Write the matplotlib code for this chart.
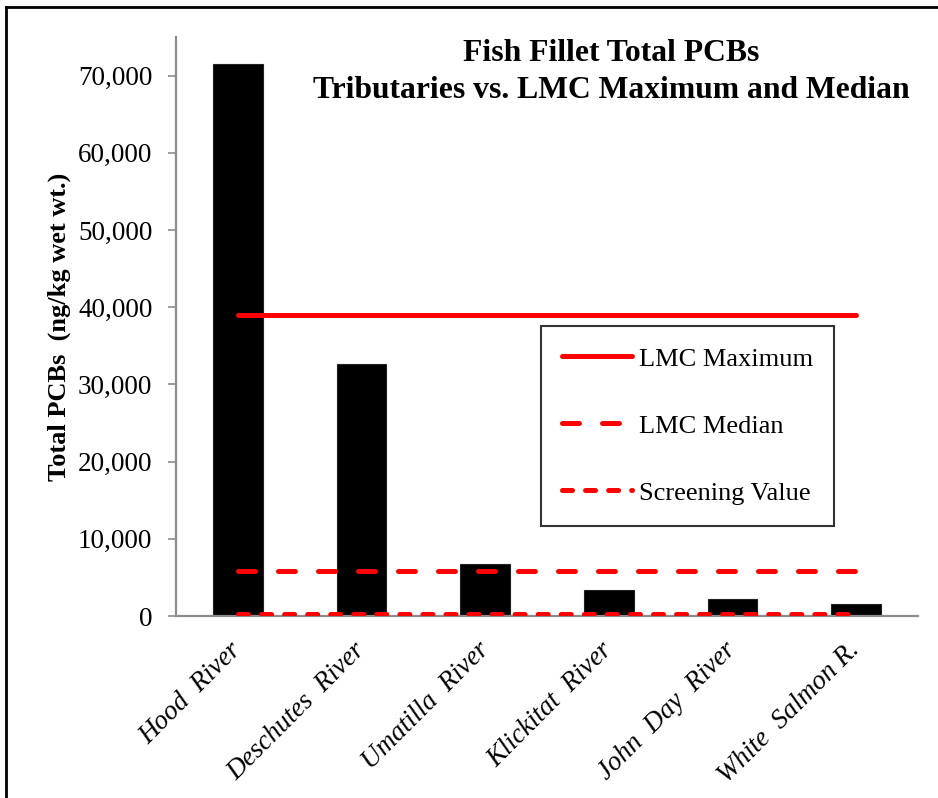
import matplotlib
matplotlib.use("Agg")
import matplotlib.pyplot as plt
from matplotlib.lines import Line2D
from matplotlib.ticker import FuncFormatter

plt.rcParams['font.family'] = ['Liberation Serif', 'DejaVu Serif']
plt.rcParams['lines.scale_dashes'] = False

# ---- data ----
categories = ["Hood  River", "Deschutes  River", "Umatilla  River",
              "Klickitat  River", "John  Day  River", "White  Salmon R."]
total_pcbs = [71500, 32600, 6750, 3400, 2200, 1600]
lmc_maximum = 39000
lmc_median = 5800
screening_value = 250
yticks = [0, 10000, 20000, 30000, 40000, 50000, 60000, 70000]

fig = plt.figure(figsize=(9.38, 7.98), dpi=100)
ax = fig.add_axes([176/938, 1-616/798, 742/938, 579/798])

x = list(range(len(categories)))
ax.bar(x, total_pcbs, width=0.40, color='black', edgecolor='#222222', linewidth=0.8, zorder=2)

red = '#ff0000'
lw = 3.6
xl = [x[0], x[-1]]
ax.plot(xl, [lmc_maximum]*2, color=red, lw=lw, solid_capstyle='round', zorder=3)
ax.plot(xl, [lmc_median]*2, color=red, lw=lw, dash_capstyle='round',
        dashes=(12.2, 16.6), zorder=3)
ax.plot(xl, [screening_value]*2, color=red, lw=lw, dash_capstyle='round',
        dashes=(7.2, 9.4), zorder=3)

ax.set_xlim(-0.5, 5.5)
ax.set_ylim(0, 75000)
ax.set_yticks(yticks)
ax.yaxis.set_major_formatter(FuncFormatter(lambda v, p: f"{int(v):,}"))
ax.set_xticks(x)
ax.set_xticklabels(categories, rotation=45, ha='right', va='center',
                   rotation_mode='anchor', fontsize=19.5, style='italic')

for s in ['top', 'right']:
    ax.spines[s].set_visible(False)
for s in ['left', 'bottom']:
    ax.spines[s].set_color('#8c8c8c')
    ax.spines[s].set_linewidth(1.6)
ax.tick_params(axis='y', length=6, width=1.2, color='#8c8c8c', pad=11, labelsize=19.5)
ax.tick_params(axis='x', length=0, pad=22)

ax.set_ylabel("Total PCBs  (ng/kg wet wt.)", fontsize=19, fontweight='bold')
ax.yaxis.set_label_coords(-0.141, 0.5)

fig.text(611/938, 1-72/798, "Fish Fillet Total PCBs\nTributaries vs. LMC Maximum and Median",
         ha='center', va='center', fontsize=22.8, fontweight='bold', linespacing=1.4)

handles = [Line2D([], [], color=red, lw=lw, solid_capstyle='round'),
           Line2D([], [], color=red, lw=lw, dash_capstyle='round', dashes=(12.2, 16.6)),
           Line2D([], [], color=red, lw=lw, dash_capstyle='round', dashes=(7.2, 9.4))]
leg = ax.legend(handles, ["LMC Maximum", "LMC Median", "Screening Value"],
                loc='upper left', bbox_to_anchor=(541/938, 1-326/798),
                bbox_transform=fig.transFigure, fontsize=19, frameon=True,
                fancybox=False, edgecolor='black', handlelength=2.65,
                handletextpad=0.25, labelspacing=1.65, borderpad=0.8,
                borderaxespad=0)
leg.get_frame().set_linewidth(1.5)

# outer border (top and left)
fig.add_artist(Line2D([6/938, 1], [1-7/798, 1-7/798], transform=fig.transFigure, color='black', lw=2))
fig.add_artist(Line2D([6/938, 6/938], [0, 1-7/798], transform=fig.transFigure, color='black', lw=2))

fig.savefig("out.png", dpi=100)
